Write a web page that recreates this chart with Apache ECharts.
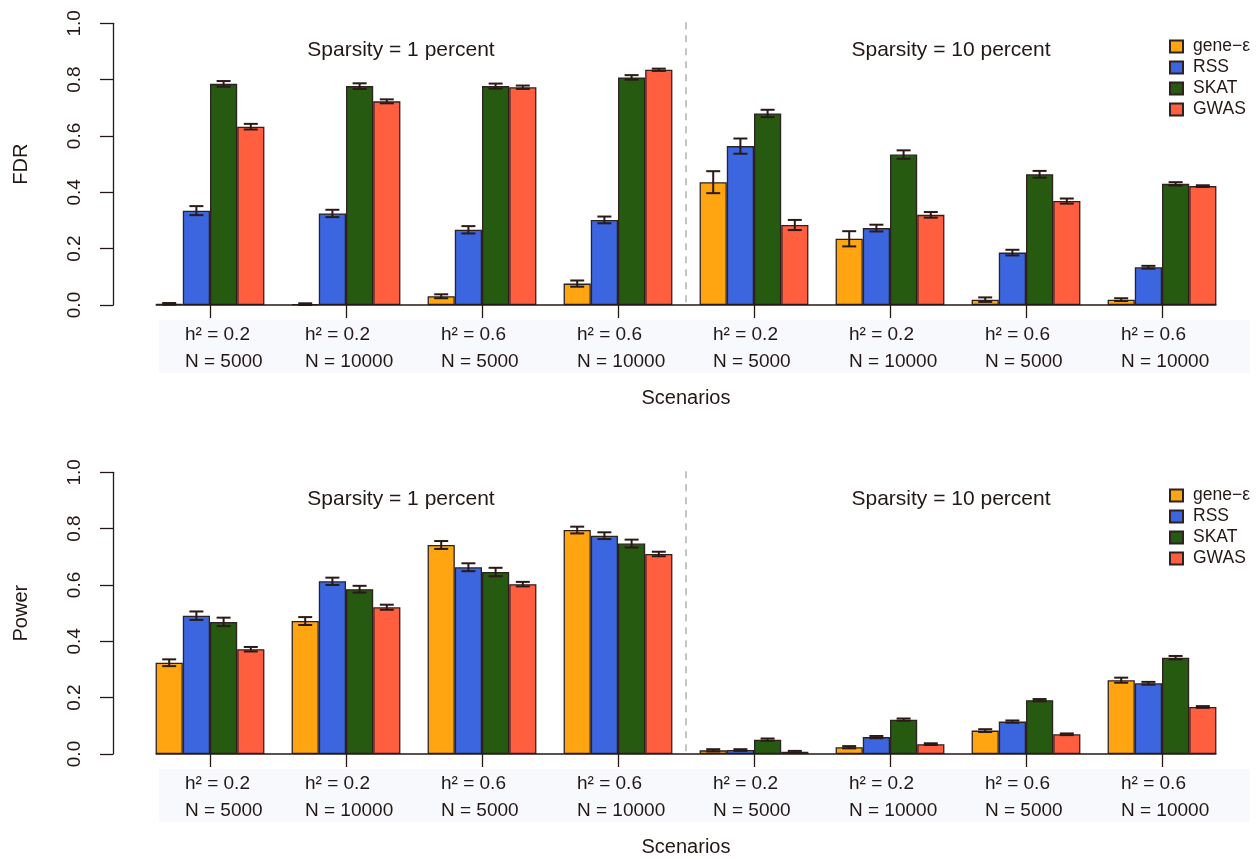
<!DOCTYPE html>
<html>
<head>
<meta charset="utf-8">
<script src="https://cdn.jsdelivr.net/npm/echarts@6/dist/echarts.min.js"></script>
<style>
  html, body { margin: 0; padding: 0; background: #ffffff; }
  #chart { width: 1260px; height: 859px; }
</style>
</head>
<body>
<div id="chart"></div>
<script>
// Scenario settings (heritability and sample size) for the eight groups
const scenarioH2 = ['0.2', '0.2', '0.6', '0.6', '0.2', '0.2', '0.6', '0.6'];
const scenarioN = ['5000', '10000', '5000', '10000', '5000', '10000', '5000', '10000'];
const sparsityLabels = ['Sparsity = 1 percent', 'Sparsity = 10 percent'];
const methods = ['gene\u2212\u03b5', 'RSS', 'SKAT', 'GWAS'];
const yTicks = [0, 0.2, 0.4, 0.6, 0.8, 1.0];

// False discovery rate: mean and error half-width per method
const fdrGeneEps = [0.004, 0.003, 0.031, 0.076, 0.436, 0.235, 0.019, 0.019];
const fdrRSS     = [0.335, 0.325, 0.267, 0.302, 0.564, 0.273, 0.186, 0.134];
const fdrSKAT    = [0.785, 0.777, 0.777, 0.808, 0.680, 0.534, 0.464, 0.430];
const fdrGWAS    = [0.633, 0.723, 0.773, 0.835, 0.284, 0.320, 0.369, 0.422];
const fdrErrGeneEps = [0.003, 0.003, 0.007, 0.011, 0.039, 0.027, 0.008, 0.005];
const fdrErrRSS     = [0.016, 0.013, 0.013, 0.012, 0.027, 0.012, 0.010, 0.005];
const fdrErrSKAT    = [0.010, 0.010, 0.009, 0.008, 0.013, 0.015, 0.012, 0.006];
const fdrErrGWAS    = [0.010, 0.007, 0.006, 0.004, 0.018, 0.010, 0.009, 0.003];

// Power: mean and error half-width per method
const powGeneEps = [0.324, 0.472, 0.742, 0.795, 0.013, 0.024, 0.083, 0.262];
const powRSS     = [0.491, 0.613, 0.663, 0.775, 0.014, 0.060, 0.115, 0.251];
const powSKAT    = [0.469, 0.585, 0.646, 0.747, 0.051, 0.122, 0.191, 0.342];
const powGWAS    = [0.372, 0.521, 0.603, 0.710, 0.008, 0.035, 0.070, 0.167];
const powErrGeneEps = [0.012, 0.014, 0.014, 0.012, 0.004, 0.004, 0.005, 0.009];
const powErrRSS     = [0.015, 0.013, 0.014, 0.012, 0.003, 0.004, 0.004, 0.005];
const powErrSKAT    = [0.015, 0.012, 0.015, 0.014, 0.004, 0.004, 0.004, 0.006];
const powErrGWAS    = [0.008, 0.009, 0.008, 0.008, 0.003, 0.003, 0.003, 0.003];

const colors = ['#FFA511', '#3B66E0', '#265A10', '#FF5F3E'];
const ink = '#231815';
const font = '"Liberation Sans", Arial, Helvetica, sans-serif';

const categories = scenarioH2.map((h, i) => 'h\u00b2 = ' + h + '\n' + 'N = ' + scenarioN[i]);

const panels = [
  { name: 'FDR', means: [fdrGeneEps, fdrRSS, fdrSKAT, fdrGWAS],
    errs: [fdrErrGeneEps, fdrErrRSS, fdrErrSKAT, fdrErrGWAS] },
  { name: 'Power', means: [powGeneEps, powRSS, powSKAT, powGWAS],
    errs: [powErrGeneEps, powErrRSS, powErrSKAT, powErrGWAS] }
];

const plotH = 281.7;
const gridTops = [23.3, 472.3];
const gridLeft = 142;
const gridWidth = 1088;
const catGap = 0.2;

function renderErrorBar(params, api) {
  const cat = api.value(0);
  const lo = api.value(1);
  const hi = api.value(2);
  const k = api.value(3);
  const band = api.size([1, 0])[0];
  const barW = band * (1 - catGap) / methods.length;
  const cx = api.coord([cat, 0])[0] + (k - (methods.length - 1) / 2) * barW;
  const yLo = api.coord([cat, lo])[1];
  const yHi = api.coord([cat, hi])[1];
  const cap = 7;
  const st = { stroke: '#2a1a17', lineWidth: 2 };
  return {
    type: 'group',
    children: [
      { type: 'line', shape: { x1: cx, y1: yLo, x2: cx, y2: yHi }, style: st },
      { type: 'line', shape: { x1: cx - cap, y1: yLo, x2: cx + cap, y2: yLo }, style: st },
      { type: 'line', shape: { x1: cx - cap, y1: yHi, x2: cx + cap, y2: yHi }, style: st }
    ]
  };
}

const labelRich = {
  a: { width: 82, align: 'left', fontFamily: font, fontSize: 19, lineHeight: 27, color: ink },
  b: { width: 50, align: 'left', fontFamily: font, fontSize: 19, lineHeight: 27, color: ink }
};

const grid = [], xAxis = [], yAxis = [], series = [], legend = [];

panels.forEach((p, g) => {
  grid.push({ left: gridLeft, top: gridTops[g], width: gridWidth, height: plotH, containLabel: false });
  xAxis.push({
    type: 'category', gridIndex: g, data: categories,
    name: 'Scenarios', nameLocation: 'middle', nameGap: 83,
    nameTextStyle: { fontFamily: font, fontSize: 20, color: ink },
    axisLine: { show: false },
    axisTick: { show: true, alignWithLabel: true, length: 13, lineStyle: { color: ink, width: 1.3 } },
    axisLabel: {
      margin: 16, interval: 0, color: ink,
      formatter: (v, idx) => {
        const st = idx === 0 ? 'b' : 'a';
        return v.split('\n').map(s => '{' + st + '|' + s + '}').join('\n');
      },
      rich: labelRich
    },
    splitLine: { show: false }
  });
  yAxis.push({
    type: 'value', gridIndex: g, min: 0, max: 1, interval: 0.2, offset: 29,
    name: p.name, nameLocation: 'middle', nameGap: 82,
    nameTextStyle: { fontFamily: font, fontSize: 20, color: ink },
    axisLine: { show: true, lineStyle: { color: ink, width: 1.3 } },
    axisTick: { show: true, length: 13, lineStyle: { color: ink, width: 1.3 } },
    axisLabel: { rotate: 90, margin: 29, fontFamily: font, fontSize: 19, color: ink,
      formatter: (v) => yTicks.indexOf(+v.toFixed(1)) >= 0 ? v.toFixed(1) : '' },
    splitLine: { show: false }
  });
  p.means.forEach((vals, k) => {
    series.push({
      type: 'bar', name: methods[k], xAxisIndex: g, yAxisIndex: g,
      data: vals, barGap: '0%', barCategoryGap: (catGap * 100) + '%',
      itemStyle: { color: colors[k], borderColor: '#2d2220', borderWidth: 1.3 },
      emphasis: { disabled: true }
    });
  });
  const errData = [];
  p.means.forEach((vals, k) => {
    vals.forEach((v, i) => errData.push([i, v - p.errs[k][i], v + p.errs[k][i], k]));
  });
  series.push({
    type: 'custom', name: p.name + ' error', xAxisIndex: g, yAxisIndex: g,
    renderItem: renderErrorBar, data: errData, encode: { x: 0, y: [1, 2] }, z: 5, silent: true
  });
  legend.push({
    data: methods, orient: 'vertical', left: 1164, top: gridTops[g] + 9.3,
    itemWidth: 13, itemHeight: 12, itemGap: 3, icon: 'rect',
    textStyle: { fontFamily: font, fontSize: 17.5, color: ink, padding: [0, 0, 0, 5] },
    selectedMode: false
  });
});

const chart = echarts.init(document.getElementById('chart'), null, { renderer: 'canvas' });
chart.setOption({
  animation: false,
  backgroundColor: '#ffffff',
  grid, xAxis, yAxis, series, legend
});

// Decorations: label band, baseline, separator between sparsity settings, headings
const graphics = [];
panels.forEach((p, g) => {
  const c0 = chart.convertToPixel({ xAxisIndex: g }, 0);
  const c1 = chart.convertToPixel({ xAxisIndex: g }, 1);
  const c3 = chart.convertToPixel({ xAxisIndex: g }, 3);
  const c4 = chart.convertToPixel({ xAxisIndex: g }, 4);
  const c7 = chart.convertToPixel({ xAxisIndex: g }, 7);
  const band = c1 - c0;
  const half = band * (1 - catGap) / 2;
  const y0 = chart.convertToPixel({ yAxisIndex: g }, 0);
  const y1 = chart.convertToPixel({ yAxisIndex: g }, 1);
  graphics.push({
    type: 'rect', z: -10, silent: true,
    shape: { x: 159, y: y0 + 15, width: 1091, height: 53 },
    style: { fill: '#f7f9fc' }
  });
  graphics.push({
    type: 'line', z: 10, silent: true,
    shape: { x1: c0 - half, y1: y0, x2: c7 + half, y2: y0 },
    style: { stroke: ink, lineWidth: 1.3 }
  });
  graphics.push({
    type: 'line', z: 10, silent: true,
    shape: { x1: (c3 + c4) / 2, y1: y1 - 1, x2: (c3 + c4) / 2, y2: y0 + 3 },
    style: { stroke: '#c4c4c4', lineWidth: 2, lineDash: [7, 6] }
  });
  const headX = [401, 951];
  sparsityLabels.forEach((t, s) => {
    graphics.push({
      type: 'text', z: 10, silent: true,
      x: headX[s], y: y1 + 27,
      style: { text: t, fill: ink, font: '21px ' + font, align: 'center', verticalAlign: 'middle',
        textAlign: 'center', textVerticalAlign: 'middle' }
    });
  });
});
chart.setOption({ graphic: graphics });
</script>
</body>
</html>
